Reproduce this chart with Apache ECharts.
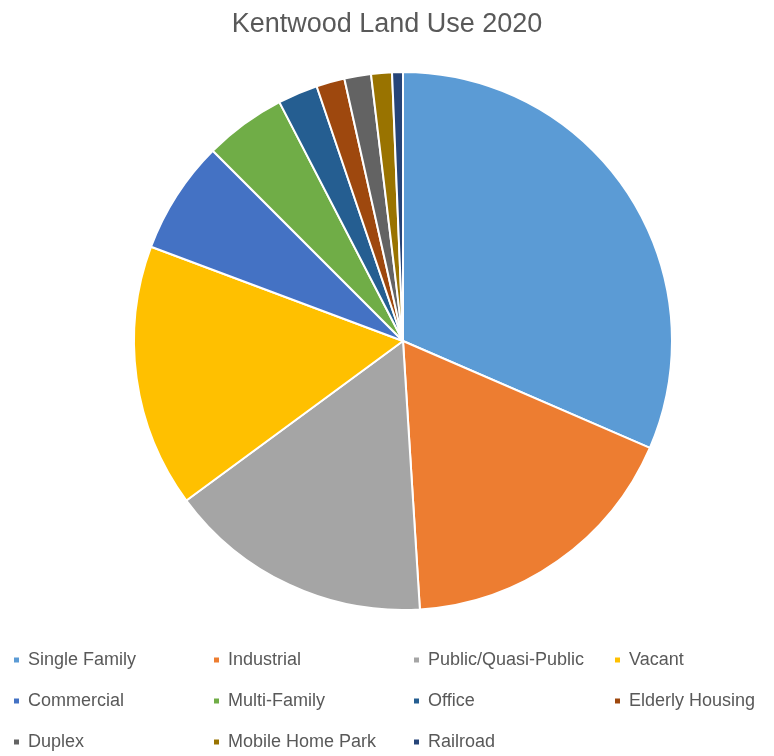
<!DOCTYPE html>
<html>
<head>
<meta charset="utf-8">
<script src="https://cdn.jsdelivr.net/npm/echarts@6/dist/echarts.min.js"></script>
<style>
  html, body { margin: 0; padding: 0; background: #fff; }
  #chart { width: 774px; height: 756px; }
</style>
</head>
<body>
<div id="chart"></div>
<script>
// land use categories, share of total area (%)
const categories = ['Single Family', 'Industrial', 'Public/Quasi-Public', 'Vacant',
    'Commercial', 'Multi-Family', 'Office', 'Elderly Housing',
    'Duplex', 'Mobile Home Park', 'Railroad'];
const shares = [31.5, 17.5, 15.9, 15.8, 6.8, 4.9, 2.4, 1.7, 1.6, 1.25, 0.65];
const colors = ['#5B9BD5', '#ED7D31', '#A5A5A5', '#FFC000', '#4472C4', '#70AD47',
    '#255E91', '#9E480E', '#636363', '#997300', '#264478'];

const chart = echarts.init(document.getElementById('chart'));

// legend laid out in a 4 column grid like the office chart
const colLeft = [12, 212, 412, 613];
const rowTop = [651, 692, 733];
const legends = categories.map((name, i) => ({
    data: [name],
    left: colLeft[i % 4],
    top: rowTop[Math.floor(i / 4)],
    icon: 'rect',
    itemWidth: 7,
    itemHeight: 7,
    itemGap: 0,
    padding: 0,
    selectedMode: false,
    textStyle: {color: '#595959', fontSize: 18, lineHeight: 18, fontFamily: 'Liberation Sans', padding: [0, 0, 0, 3]}
}));

const option = {
    animation: false,
    color: colors,
    title: {
        text: 'Kentwood Land Use 2020',
        left: 'center',
        top: 6,
        textStyle: {color: '#595959', fontSize: 27, fontWeight: 'normal', fontFamily: 'Liberation Sans'}
    },
    legend: legends,
    series: [{
        type: 'pie',
        center: [403, 341],
        radius: 269,
        startAngle: 90,
        clockwise: true,
        label: {show: false},
        labelLine: {show: false},
        itemStyle: {borderColor: '#fff', borderWidth: 2},
        emphasis: {disabled: true},
        data: categories.map((name, i) => ({name, value: shares[i]}))
    }]
};
chart.setOption(option);
</script>
</body>
</html>
